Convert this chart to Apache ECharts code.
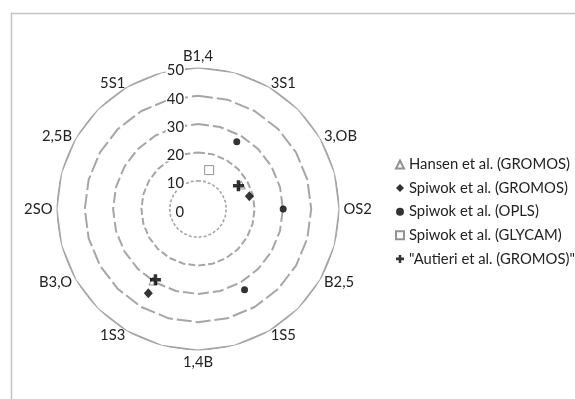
<!DOCTYPE html>
<html>
<head>
<meta charset="utf-8">
<script src="https://cdn.jsdelivr.net/npm/echarts@6/dist/echarts.min.js"></script>
<style>html,body{margin:0;padding:0;background:#fff;}#chart{width:575px;height:399px;}</style>
</head>
<body>
<div id="chart"></div>
<script>
// Categories (clockwise from top)
var categories = ['B1,4','3S1','3,OB','OS2','B2,5','1S5','1,4B','1S3','B3,O','2SO','2,5B','5S1'];
// Ring (grid) values and radial tick labels
var ringValues = [10, 20, 30, 40, 50];
var radialMax = 50;
// Series data: [radius, angle in degrees clockwise from B1,4]
var hansenGromos  = [[17.5, 61], [30.0, 212]];
var spiwokGromos  = [[18.7, 76], [34.6, 210.5]];
var spiwokOpls    = [[27.4, 30], [30.1, 90], [32.9, 150]];
var spiwokGlycam  = [[14.3, 16]];
var autieriGromos = [[16.5, 60], [29.2, 211]];

var FONT = 'Lato';
var ringDash = [[3,2],[7,3],[11,4],[15,4],'solid'];
var ringWidth = [1.6, 2, 2, 2, 2];
// grid polygons have a vertex on every category axis and one half-way between
var step = 360 / (categories.length * 2);
var ringAngles = [];
for (var i = 0; i <= categories.length * 2; i++) ringAngles.push(i * step);

var series = [];
ringValues.forEach(function (r, k) {
  series.push({
    type: 'line', coordinateSystem: 'polar', silent: true, symbol: 'none',
    z: 1,
    lineStyle: {color: '#a6a6a6', width: ringWidth[k], type: ringDash[k]},
    data: ringAngles.map(function (a) { return [r, a]; })
  });
});

var plusPath = 'path://M3.4,0H6.6V3.4H10V6.6H6.6V10H3.4V6.6H0V3.4H3.4Z';
series.push(
  {name: 'Hansen et al. (GROMOS)', type: 'scatter', coordinateSystem: 'polar', symbol: 'triangle', symbolSize: 8,
   itemStyle: {color: '#fff', borderColor: '#777', borderWidth: 1}, z: 3, data: hansenGromos},
  {name: 'Spiwok et al. (GROMOS)', type: 'scatter', coordinateSystem: 'polar', symbol: 'diamond', symbolSize: [9, 10],
   itemStyle: {color: '#000'}, z: 4, data: spiwokGromos},
  {name: 'Spiwok et al. (OPLS)', type: 'scatter', coordinateSystem: 'polar', symbol: 'circle', symbolSize: 7,
   itemStyle: {color: '#000'}, z: 4, data: spiwokOpls},
  {name: 'Spiwok et al. (GLYCAM)', type: 'scatter', coordinateSystem: 'polar', symbol: 'rect', symbolSize: 9,
   itemStyle: {color: '#fff', borderColor: '#777', borderWidth: 1}, z: 4, data: spiwokGlycam},
  {name: '"Autieri et al. (GROMOS)"', type: 'scatter', coordinateSystem: 'polar', symbol: plusPath, symbolSize: 11,
   itemStyle: {color: '#000'}, z: 5, data: autieriGromos}
);

// radar indicators run counter-clockwise; reverse so names go clockwise
var radarIndicators = [categories[0]].concat(categories.slice(1).reverse()).map(function (c) {
  return {name: c, min: 0, max: radialMax};
});

var chart = echarts.init(document.getElementById('chart'), null, {renderer: 'canvas'});
chart.setOption({
  animation: false,
  backgroundColor: '#fff',
  graphic: [{
    type: 'rect', silent: true, z: -10,
    shape: {x: 11.5, y: 13.5, width: 700, height: 500},
    style: {fill: 'none', stroke: '#c3c3c3', lineWidth: 1.5}
  }],
  polar: {center: [198, 209], radius: 141.5},
  angleAxis: {
    type: 'value', min: 0, max: 360, startAngle: 90, clockwise: true,
    axisLine: {show: false}, axisTick: {show: false}, axisLabel: {show: false}, splitLine: {show: false}
  },
  radiusAxis: {
    type: 'value', min: 0, max: radialMax, interval: 10, z: 10,
    axisLine: {show: false}, axisTick: {show: false}, splitLine: {show: false},
    axisLabel: {margin: 13, fontSize: 14.8, fontFamily: FONT, color: '#222',
      verticalAlign: 'top', lineHeight: 4,
      backgroundColor: '#fff', padding: [1, 1, 4, 1]}
  },
  radar: {
    center: [198, 209], radius: 141.5, shape: 'polygon', splitNumber: 5, nameGap: 4,
    startAngle: 90,
    indicator: radarIndicators,
    axisName: {color: '#222', fontSize: 14.8, fontFamily: FONT},
    axisLine: {show: false}, axisTick: {show: false}, axisLabel: {show: false},
    splitLine: {show: false}, splitArea: {show: false}
  },
  legend: {
    orient: 'vertical', left: 390, top: 152, itemWidth: 8, itemHeight: 8, itemGap: 8.6,
    textStyle: {fontSize: 14.8, fontFamily: FONT, color: '#222'},
    data: ['Hansen et al. (GROMOS)', 'Spiwok et al. (GROMOS)', 'Spiwok et al. (OPLS)', 'Spiwok et al. (GLYCAM)', '"Autieri et al. (GROMOS)"']
  },
  series: series
});
</script>
</body>
</html>
